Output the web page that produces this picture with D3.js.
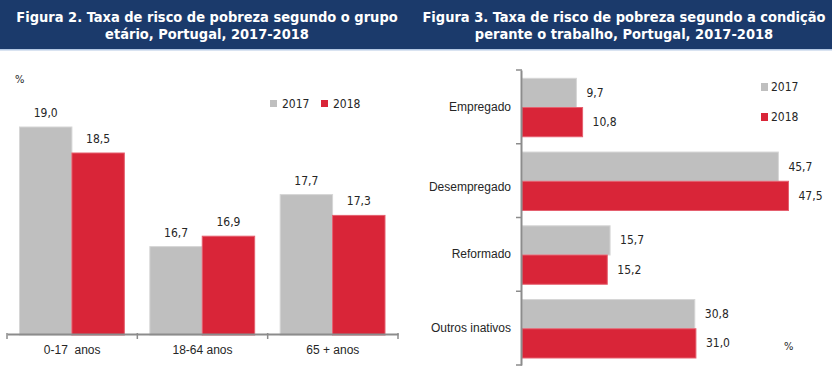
<!DOCTYPE html>
<html><head><meta charset="utf-8">
<script src="https://cdn.jsdelivr.net/npm/d3@7"></script>
<style>
html,body{margin:0;padding:0;background:#fff;}
svg{display:block;font-family:"DejaVu Sans Condensed","DejaVu Sans",sans-serif;}
svg text{white-space:pre;}
</style></head>
<body><svg id="c" width="832" height="374"></svg>
<script>
const years = ["2017", "2018"];
const colors = ["#bfbfbf", "#d92538"];
const strokes = ["#d6d6d6", "#e5606f"];

const ageGroups = ["0-17  anos", "18-64 anos", "65 + anos"];
const age2017 = [19.0, 16.7, 17.7];
const age2018 = [18.5, 16.9, 17.3];

const workStatus = ["Empregado", "Desempregado", "Reformado", "Outros inativos"];
const work2017 = [9.7, 45.7, 15.7, 30.8];
const work2018 = [10.8, 47.5, 15.2, 31.0];

const title1 = ["Figura 2. Taxa de risco de pobreza segundo o grupo", "etário, Portugal, 2017-2018"];
const title2 = ["Figura 3. Taxa de risco de pobreza segundo a condição", "perante o trabalho, Portugal, 2017-2018"];

const fmt = v => d3.format(".1f")(v).replace(".", ",");
const txt = "#262626";
const axisCol = "#8c8c8c";

const svg = d3.select("#c");

// header band
svg.append("rect").attr("x",0).attr("y",0).attr("width",832).attr("height",49).attr("fill","#1b3a6b");
svg.append("rect").attr("x",0).attr("y",49).attr("width",832).attr("height",1.5).attr("fill","#b4c8e4");
[[title1,207],[title2,624]].forEach(([t,cx])=>{
  t.forEach((line,i)=>{
    svg.append("text").attr("x",cx).attr("y",22+i*17).attr("text-anchor","middle")
      .attr("fill","#fff").attr("font-weight","bold").attr("font-size","14.5px").text(line);
  });
});

// ---------- Left chart ----------
const L = svg.append("g");
const x0 = d3.scaleBand().domain(ageGroups).range([7, 398]);
const x1 = d3.scaleBand().domain(years).range([12.5, x0.bandwidth()-13]);
const yL = d3.scaleLinear().domain([15, 20]).range([335, 75]);
const ageData = ageGroups.map((g,i)=>({g, vals:[age2017[i], age2018[i]]}));

const gg = L.selectAll("g.grp").data(ageData).join("g").attr("transform", d=>`translate(${x0(d.g)},0)`);
gg.selectAll("rect").data(d=>d.vals.map((v,j)=>({v,j}))).join("rect")
  .attr("x", d=>x1(years[d.j])).attr("width", x1.bandwidth())
  .attr("y", d=>yL(d.v)).attr("height", d=>yL(15)-yL(d.v))
  .attr("fill", d=>colors[d.j]).attr("stroke", d=>strokes[d.j]).attr("stroke-width",1);
gg.selectAll("text.val").data(d=>d.vals.map((v,j)=>({v,j}))).join("text").attr("class","val")
  .attr("x", d=>x1(years[d.j])+x1.bandwidth()/2).attr("y", d=>yL(d.v)-10)
  .attr("text-anchor","middle").attr("font-size","12px").attr("fill",txt).text(d=>fmt(d.v));

const axL = L.append("g").attr("transform","translate(0,334)")
  .call(d3.axisBottom(x0).tickSize(0).tickPadding(11));
axL.select(".domain").attr("stroke",axisCol).attr("stroke-width",2);
axL.selectAll("text").attr("font-size","12px").attr("fill",txt).attr("font-family",null);
// boundary ticks
const bL = ageGroups.map(g=>x0(g)).concat([x0.range()[1]]);
L.selectAll("line.bt").data(bL).join("line").attr("class","bt")
  .attr("x1",d=>d).attr("x2",d=>d).attr("y1",333).attr("y2",339)
  .attr("stroke",axisCol).attr("stroke-width",1.5);

L.append("text").attr("x",15).attr("y",83).attr("font-size","11px").attr("fill",txt).text("%");
years.forEach((y,j)=>{
  const lx = [270,321][j];
  L.append("rect").attr("x",lx).attr("y",100).attr("width",7).attr("height",7).attr("fill",colors[j]);
  L.append("text").attr("x",lx+12).attr("y",108).attr("font-size","12px").attr("fill",txt).text(y);
});

// ---------- Right chart ----------
const R = svg.append("g");
const y0 = d3.scaleBand().domain(workStatus).range([70, 365]);
const y1 = d3.scaleBand().domain(years).range([8.3, y0.bandwidth()-7]);
const xR = d3.scaleLinear().domain([0, 50]).range([522, 802.5]);
const workData = workStatus.map((g,i)=>({g, vals:[work2017[i], work2018[i]]}));

const rg = R.selectAll("g.grp").data(workData).join("g").attr("transform", d=>`translate(0,${y0(d.g)})`);
rg.selectAll("rect").data(d=>d.vals.map((v,j)=>({v,j}))).join("rect")
  .attr("y", d=>y1(years[d.j])).attr("height", y1.bandwidth())
  .attr("x", xR(0)).attr("width", d=>xR(d.v)-xR(0))
  .attr("fill", d=>colors[d.j]).attr("stroke", d=>strokes[d.j]).attr("stroke-width",1);
rg.selectAll("text.val").data(d=>d.vals.map((v,j)=>({v,j}))).join("text").attr("class","val")
  .attr("x", d=>xR(d.v)+10).attr("y", d=>y1(years[d.j])+y1.bandwidth()/2)
  .attr("dominant-baseline","central").attr("font-size","12px").attr("fill",txt).text(d=>fmt(d.v));

const axR = R.append("g").attr("transform","translate(521,0)")
  .call(d3.axisLeft(y0).tickSize(0).tickPadding(10));
axR.select(".domain").attr("stroke",axisCol).attr("stroke-width",2);
axR.selectAll("text").attr("font-size","12px").attr("fill",txt).attr("font-family",null);
// the reference draws the "Desempregado" label slightly below its band centre
axR.selectAll(".tick text").filter(d=>d==="Desempregado").attr("y",7);
const bR = workStatus.map(g=>y0(g)).concat([y0.range()[1]]);
R.selectAll("line.bt").data(bR).join("line").attr("class","bt")
  .attr("x1",516).attr("x2",522).attr("y1",d=>d).attr("y2",d=>d)
  .attr("stroke",axisCol).attr("stroke-width",1.5);

R.append("text").attr("x",784).attr("y",350).attr("font-size","11px").attr("fill",txt).text("%");
years.forEach((y,j)=>{
  const ly = [83,113][j];
  R.append("rect").attr("x",761).attr("y",ly).attr("width",7).attr("height",8).attr("fill",colors[j]);
  R.append("text").attr("x",771).attr("y",ly+4).attr("dominant-baseline","central").attr("font-size","12px").attr("fill",txt).text(y);
});
</script></body></html>
